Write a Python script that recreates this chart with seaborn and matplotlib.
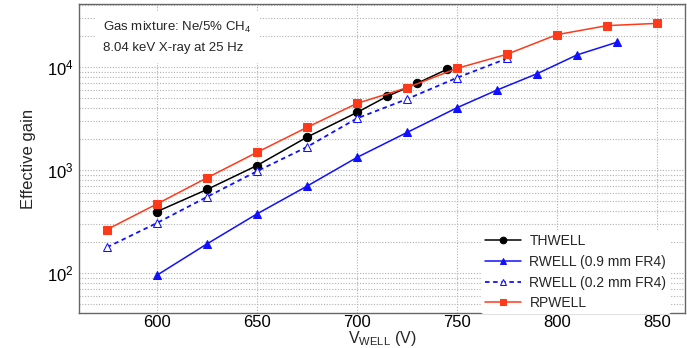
import numpy as np
import pandas as pd
import matplotlib
matplotlib.use("Agg")
import matplotlib.pyplot as plt
from matplotlib.ticker import LogLocator, MultipleLocator, NullFormatter, FixedLocator
import seaborn as sns

sns.set_style("white")
plt.rcParams["font.family"] = ["Liberation Sans", "DejaVu Sans"]
plt.rcParams["mathtext.fontset"] = "custom"
plt.rcParams["mathtext.rm"] = "Liberation Sans"
plt.rcParams["mathtext.it"] = "Liberation Sans"

# data
thwell_v = [600, 625, 650, 675, 700, 715, 730, 745]
thwell_g = [397, 650, 1110, 2090, 3630, 5190, 6940, 9500]

rwell09_v = [600, 625, 650, 675, 700, 725, 750, 770, 790, 810, 830]
rwell09_g = [96, 193, 377, 700, 1330, 2320, 4030, 5980, 8610, 13100, 17400]

rwell02_v = [575, 600, 625, 650, 675, 700, 725, 750, 775]
rwell02_g = [179, 308, 551, 977, 1680, 3180, 4890, 7870, 12100]

rpwell_v = [575, 600, 625, 650, 675, 700, 725, 750, 775, 800, 825, 850]
rpwell_g = [266, 471, 843, 1490, 2600, 4440, 6300, 9710, 13300, 20600, 25200, 26500]

labels = ["THWELL", "RWELL (0.9 mm FR4)", "RWELL (0.2 mm FR4)", "RPWELL"]

fig = plt.figure(figsize=(6.87, 3.48), dpi=100)
ax = fig.add_axes([0.115, 0.0997, 0.882, 0.889])

red = "#ff3a1a"
blue = "#1010ff"
series = [
    (thwell_v, thwell_g, labels[0], dict(color="black", marker="o", ms=6, mfc="black", mec="black", ls="-", lw=1.1)),
    (rwell09_v, rwell09_g, labels[1], dict(color=blue, marker="^", ms=6, mfc=blue, mec=blue, ls="-", lw=1.1)),
    (rwell02_v, rwell02_g, labels[2], dict(color=blue, marker="^", ms=6, mfc="white", mec=blue, ls=(0, (2.5, 2)), lw=1.3)),
    (rpwell_v, rpwell_g, labels[3], dict(color=red, marker="s", ms=6, mfc=red, mec=red, ls="-", lw=1.1)),
]
for xv, yv, lab, kw in series:
    df = pd.DataFrame({"V": xv, "gain": yv})
    sns.lineplot(data=df, x="V", y="gain", ax=ax, label=lab, zorder=3, **kw)

ax.set_yscale("log")
ax.set_xlim(561, 864)
ax.set_ylim(41, 4.09e4)

# ticks
ax.xaxis.set_major_locator(FixedLocator([600, 650, 700, 750, 800, 850]))
ax.xaxis.set_minor_locator(MultipleLocator(10))
ax.yaxis.set_major_locator(LogLocator(base=10))
ax.yaxis.set_minor_locator(LogLocator(base=10, subs=np.arange(2, 10)))
ax.yaxis.set_minor_formatter(NullFormatter())
ax.tick_params(axis="both", which="both", direction="in", colors="#444444", labelcolor="black", labelsize=12)
ax.tick_params(axis="x", which="major", length=8, top=False, pad=1)
ax.tick_params(axis="x", which="minor", length=5, top=False)
ax.tick_params(axis="y", which="major", length=17, right=False, pad=4)
ax.tick_params(axis="y", which="minor", length=8, right=False)

# grid
ax.grid(True, which="major", axis="x", color="#b0b0b0", ls=(0, (1, 1.5)), lw=0.8, zorder=0)
ax.grid(True, which="both", axis="y", color="#b0b0b0", ls=(0, (1, 1.5)), lw=0.8, zorder=0)
ax.set_axisbelow(True)

for s in ax.spines.values():
    s.set_color("#666666")
    s.set_linewidth(1.0)

ax.set_xlabel(r"V$_{\mathregular{WELL}}$ (V)", fontsize=11.5, va="bottom")
ax.xaxis.set_label_coords(0.5, -0.113)
ax.set_ylabel("Effective gain", fontsize=12, labelpad=8)

# annotation box
ax.text(0.04, 0.948, "Gas mixture: Ne/5% CH$_4$\n8.04 keV X-ray at 25 Hz", transform=ax.transAxes,
        fontsize=9.5, va="top", ha="left", linespacing=1.8,
        bbox=dict(facecolor="white", edgecolor="none", pad=6), zorder=4)

leg = ax.legend(loc="lower right", bbox_to_anchor=(0.9775, -0.006), frameon=True, fontsize=10,
                handlelength=2.6, labelspacing=0.48, borderpad=0.3, borderaxespad=0.05,
                handletextpad=0.6, markerscale=0.8)
leg.get_frame().set_edgecolor("none")
leg.get_frame().set_facecolor("white")
leg.get_frame().set_alpha(1.0)
leg.set_zorder(5)

fig.savefig("out.png", dpi=100)
